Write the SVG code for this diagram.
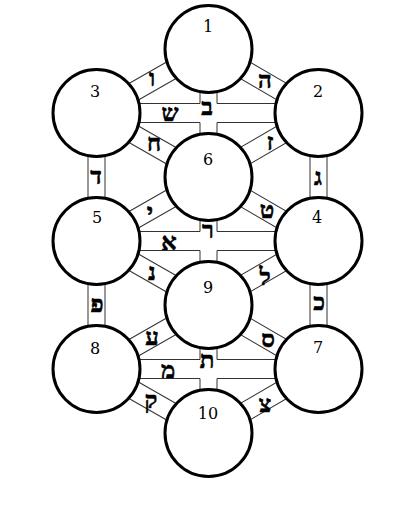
<svg xmlns="http://www.w3.org/2000/svg" width="407" height="510" viewBox="0 0 407 510">
<style>
.bg{fill:#fff}
.ch{fill:none;stroke:#333;stroke-width:1}
.node circle{fill:#fff;stroke:#000;stroke-width:3}
.num{font-family:"DejaVu Serif","Liberation Serif",serif;font-size:16px;fill:#000;text-anchor:middle}
.let{font-family:"Liberation Serif","DejaVu Sans",serif;font-size:24px;font-weight:bold;fill:#000;stroke:#000;stroke-width:0.6;text-anchor:middle}
</style>
<rect class="bg" x="0" y="0" width="407" height="510"/>
<g id="connectors">
  <path class="ch" d="M96.5 103.5H200V49M318.5 103.5H217V49M96.5 122.5H200V177M318.5 122.5H217V177"/>
  <path class="ch" d="M96.5 231.5H200V177M318.5 231.5H217V177M96.5 250.5H200V305M318.5 250.5H217V305"/>
  <path class="ch" d="M96.5 359.5H200V305M318.5 359.5H217V305M96.5 378.5H200V433M318.5 378.5H217V433"/>
  <path class="ch" d="M88 113V241M105 113V241"/>
  <path class="ch" d="M88 241V369M105 241V369"/>
  <path class="ch" d="M310 113V241M327 113V241"/>
  <path class="ch" d="M310 241V369M327 241V369"/>
  <path class="ch" d="M0-9.5H128M0 9.5H128" transform="translate(208.5 49) rotate(150.26)"/>
  <path class="ch" d="M0-9.5H128M0 9.5H128" transform="translate(208.5 49) rotate(30.19)"/>
  <path class="ch" d="M0-9.5H128M0 9.5H128" transform="translate(96.5 113) rotate(29.74)"/>
  <path class="ch" d="M0-9.5H128M0 9.5H128" transform="translate(318.5 113) rotate(149.81)"/>
  <path class="ch" d="M0-9.5H128M0 9.5H128" transform="translate(96.5 241) rotate(-29.74)"/>
  <path class="ch" d="M0-9.5H128M0 9.5H128" transform="translate(318.5 241) rotate(210.19)"/>
  <path class="ch" d="M0-9.5H128M0 9.5H128" transform="translate(96.5 241) rotate(29.74)"/>
  <path class="ch" d="M0-9.5H128M0 9.5H128" transform="translate(318.5 241) rotate(149.81)"/>
  <path class="ch" d="M0-9.5H128M0 9.5H128" transform="translate(96.5 369) rotate(-29.74)"/>
  <path class="ch" d="M0-9.5H128M0 9.5H128" transform="translate(318.5 369) rotate(210.19)"/>
  <path class="ch" d="M0-9.5H128M0 9.5H128" transform="translate(96.5 369) rotate(29.74)"/>
  <path class="ch" d="M0-9.5H128M0 9.5H128" transform="translate(318.5 369) rotate(149.81)"/>
</g>
<g id="node-1" class="node"><circle cx="208.5" cy="49" r="43.5"/><text class="num" x="208" y="32">1</text></g>
<g id="node-2" class="node"><circle cx="318.5" cy="113" r="43.5"/><text class="num" x="318" y="97">2</text></g>
<g id="node-3" class="node"><circle cx="96.5" cy="113" r="43.5"/><text class="num" x="95" y="97">3</text></g>
<g id="node-4" class="node"><circle cx="318.5" cy="241" r="43.5"/><text class="num" x="317" y="223">4</text></g>
<g id="node-5" class="node"><circle cx="96.5" cy="241" r="43.5"/><text class="num" x="97" y="223">5</text></g>
<g id="node-6" class="node"><circle cx="208.5" cy="177" r="43.5"/><text class="num" x="208" y="165">6</text></g>
<g id="node-7" class="node"><circle cx="318.5" cy="369" r="43.5"/><text class="num" x="318" y="353">7</text></g>
<g id="node-8" class="node"><circle cx="96.5" cy="369" r="43.5"/><text class="num" x="95" y="354">8</text></g>
<g id="node-9" class="node"><circle cx="208.5" cy="305" r="43.5"/><text class="num" x="208" y="293">9</text></g>
<g id="node-10" class="node"><circle cx="208.5" cy="433" r="43.5"/><text class="num" x="208" y="419">10</text></g>
<g id="path-letters">
  <text class="let" x="152" y="86">ו</text>
  <text class="let" x="265" y="88">ה</text>
  <text class="let" x="207" y="115">ב</text>
  <text class="let" x="170" y="121">ש</text>
  <text class="let" x="154" y="151">ח</text>
  <text class="let" x="270" y="150">ז</text>
  <text class="let" x="96" y="184">ד</text>
  <text class="let" x="318" y="185">ג</text>
  <text class="let" x="150" y="220">י</text>
  <text class="let" x="267" y="218">ט</text>
  <text class="let" x="208" y="238">ר</text>
  <text class="let" x="169" y="250">א</text>
  <text class="let" x="152" y="280">נ</text>
  <text class="let" x="265" y="285">ל</text>
  <text class="let" x="97" y="312">פ</text>
  <text class="let" x="319" y="310">כ</text>
  <text class="let" x="152" y="345">ע</text>
  <text class="let" x="268" y="347">ס</text>
  <text class="let" x="207" y="368">ת</text>
  <text class="let" x="168" y="378">מ</text>
  <text class="let" x="151" y="408">ק</text>
  <text class="let" x="265" y="412">צ</text>
</g>
</svg>
